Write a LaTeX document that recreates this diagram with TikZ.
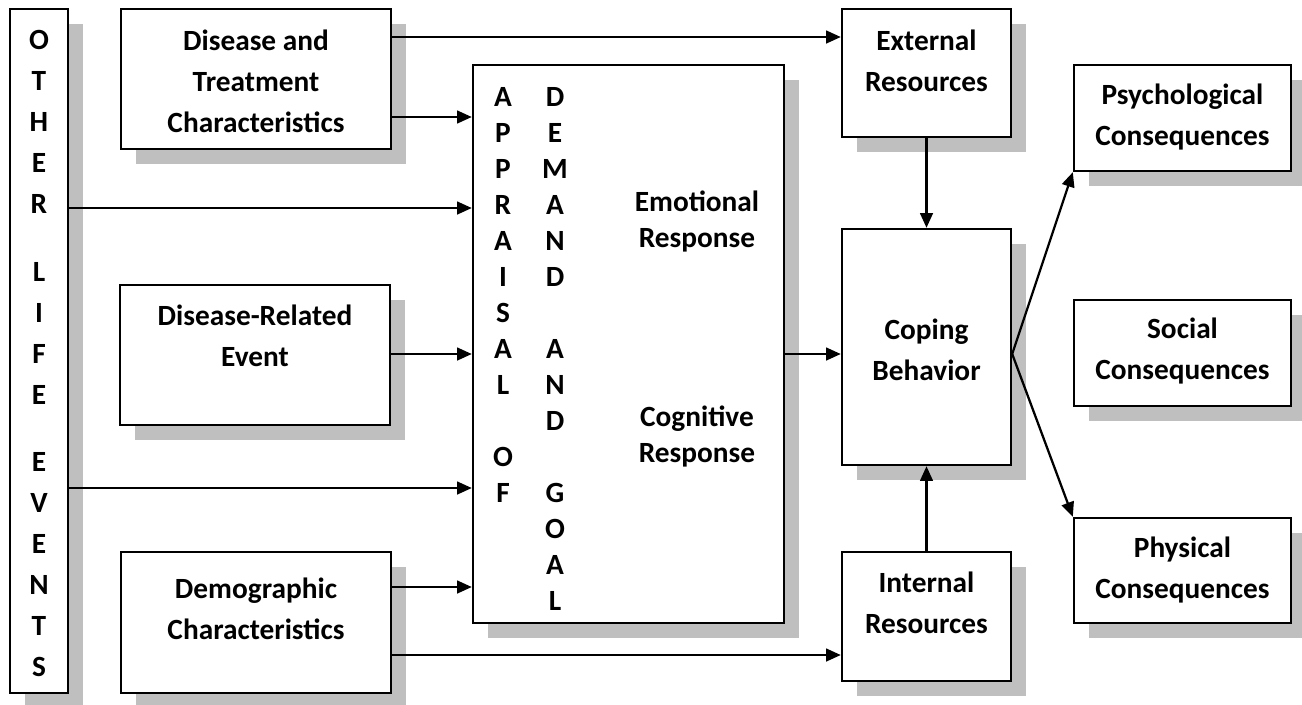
\documentclass[tikz,border=0pt]{standalone}
\usepackage{fontspec}
\setmainfont{Carlito}
\usetikzlibrary{arrows.meta,shadows}
\begin{document}
\begin{tikzpicture}[x=0.75pt,y=-0.75pt,
  box/.style={draw=black, line width=1.8pt, fill=white, inner sep=0pt,
    drop shadow={shadow xshift=11.5pt, shadow yshift=-11.5pt, fill=black!25, opacity=1}},
  txt/.style={font=\bfseries\fontsize{22pt}{30.75pt}\selectfont, align=center, inner sep=0pt},
  col/.style={font=\bfseries\fontsize{22pt}{27pt}\selectfont, align=center, inner sep=0pt},
  arr/.style={line width=1.7pt, -{Triangle[length=11pt,width=9.5pt]}}]
\useasboundingbox[fill=white] (0,0) rectangle (1302,704);

% boxes
\node[box, minimum width=43.5pt, minimum height=513pt] (other) at (39,351) {};
\node[box, minimum width=202.5pt, minimum height=105pt] (dt) at (256,79) {};
\node[box, minimum width=202.5pt, minimum height=105pt] (dre) at (255,355) {};
\node[box, minimum width=202.5pt, minimum height=105.75pt] (demo) at (256,622.5) {};
\node[box, minimum width=233.25pt, minimum height=418.5pt] (main) at (628.5,344) {};
\node[box, minimum width=126.75pt, minimum height=96pt] (ext) at (926.5,73) {};
\node[box, minimum width=126.75pt, minimum height=177pt] (coping) at (926.5,347) {};
\node[box, minimum width=126.75pt, minimum height=96.75pt] (int) at (926.5,616.5) {};
\node[box, minimum width=162.75pt, minimum height=79.5pt] (psych) at (1182.5,118) {};
\node[box, minimum width=162.75pt, minimum height=79.5pt] (social) at (1182.5,353) {};
\node[box, minimum width=162.75pt, minimum height=78.75pt] (phys) at (1182.5,570.5) {};

% texts
\node[txt] (otherT) at (39,353.5) {O\\T\\H\\E\\R\\[20pt]L\\I\\F\\E\\[20pt]E\\V\\E\\N\\T\\S};
\node[txt] (dtT) at (256,81) {Disease and\\Treatment\\Characteristics};
\node[txt] (dreT) at (255,336) {Disease-Related\\Event};
\node[txt] (demoT) at (256,609) {Demographic\\Characteristics};
\node[txt] (extT) at (926.5,61) {External\\Resources};
\node[txt] (intT) at (926.5,603) {Internal\\Resources};
\node[txt] (copT) at (926.5,350) {Coping\\Behavior};
\node[txt] (psychT) at (1182.5,117) {Psychological\\Consequences};
\node[txt] (socT) at (1182.5,351) {Social\\Consequences};
\node[txt] (physT) at (1182.5,570) {Physical\\Consequences};
\node[col] (appr) at (503,295) {A\\P\\P\\R\\A\\I\\S\\A\\L\\[27pt]O\\F};
\node[col] (dem) at (555,349) {D\\E\\M\\A\\N\\D\\[27pt]A\\N\\D\\[27pt]G\\O\\A\\L};
\node[col] (emo) at (697,221) {Emotional\\Response};
\node[col] (cog) at (697,436) {Cognitive\\Response};

% connectors
\draw[arr] (dt.east |- 0,37) -- (ext.west |- 0,37);
\draw[arr] (dt.east |- 0,117) -- (main.west |- 0,117);
\draw[arr] (other.east |- 0,208) -- (main.west |- 0,208);
\draw[arr] (dre.east |- 0,354) -- (main.west |- 0,354);
\draw[arr] (other.east |- 0,488) -- (main.west |- 0,488);
\draw[arr] (demo.east |- 0,587) -- (main.west |- 0,587);
\draw[arr] (demo.east |- 0,655) -- (int.west |- 0,655);
\draw[arr] (main.east |- 0,354) -- (coping.west |- 0,354);
\draw[arr] (ext.south) -- (coping.north);
\draw[arr] (int.north) -- (coping.south);
\coordinate (split) at (coping.east |- 0,354);
\draw[arr] (split) -- (psych.south west);
\draw[arr] (split) -- (phys.north west);
\end{tikzpicture}
\end{document}
